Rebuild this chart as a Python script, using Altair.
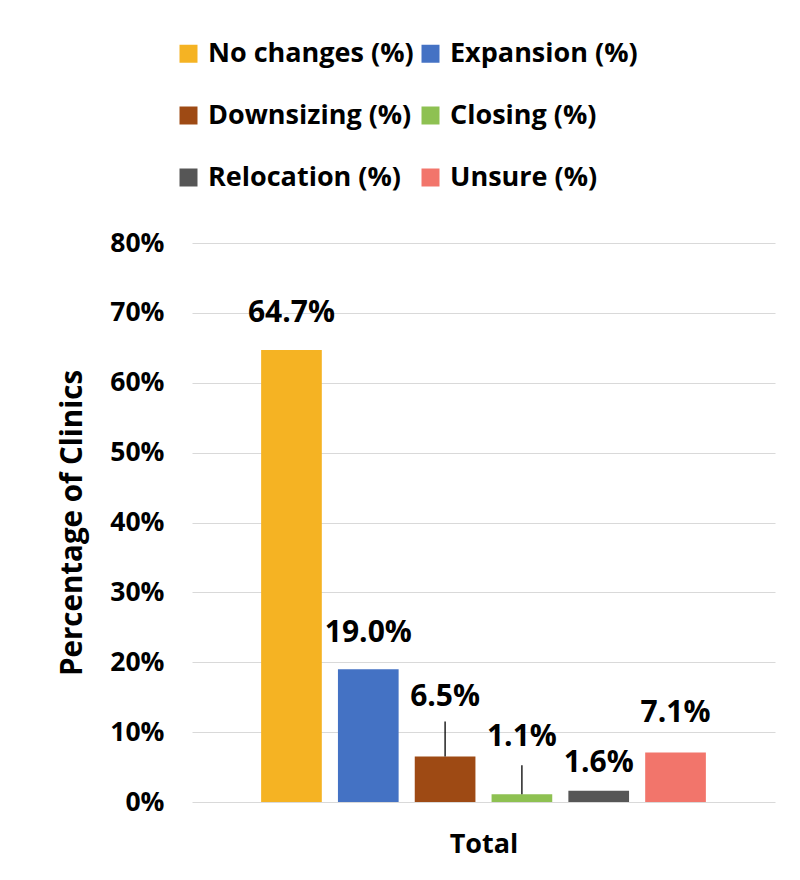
import altair as alt
import pandas as pd

# ---- data ----
categories = ["No changes (%)", "Expansion (%)", "Downsizing (%)", "Closing (%)", "Relocation (%)", "Unsure (%)"]
values = [64.7, 19.0, 6.5, 1.1, 1.6, 7.1]
labels = ["64.7%", "19.0%", "6.5%", "1.1%", "1.6%", "7.1%"]
y_ticks = [0, 10, 20, 30, 40, 50, 60, 70, 80]
group_label = "Total"
y_title = "Percentage of Clinics"

# ---- style ----
colors = ["#F5B323", "#4472C4", "#9E4A14", "#8EC152", "#565656", "#F2756B"]
FONT = "Open Sans"
label_dy = {"No changes (%)": -37, "Expansion (%)": -36, "Downsizing (%)": -60,
            "Closing (%)": -57, "Relocation (%)": -28, "Unsure (%)": -39}
leader_len = {"Downsizing (%)": 35, "Closing (%)": 29}

df = pd.DataFrame({"series": categories, "value": values, "label": labels})

x_enc = alt.X(
    "series:N", sort=categories,
    scale=alt.Scale(paddingInner=0.21, paddingOuter=0.9),
    axis=alt.Axis(title=group_label, labels=False, ticks=False, domain=False, grid=False,
                  titleFont=FONT, titleFontSize=27, titleFontWeight="bold", titleColor="#000000",
                  titleY=42, titleBaseline="middle"),
)
y_enc = alt.Y(
    "value:Q",
    scale=alt.Scale(domain=[0, 80]),
    axis=alt.Axis(values=y_ticks, labelExpr="datum.value + '%'", grid=True, gridColor="#d9d9d9",
                  gridWidth=1.2, domain=False, ticks=False, labelPadding=28,
                  labelFont=FONT, labelFontSize=26.5, labelFontWeight="bold", labelColor="#000000",
                  title=y_title, titleFont=FONT, titleFontSize=29.5, titleFontWeight="bold",
                  titleColor="#000000", titleX=-120, titleY=279.5, titleAngle=270,
                  titleAlign="center", titleBaseline="middle"),
)

base = alt.Chart(df)

bars = base.mark_bar().encode(
    x=x_enc, y=y_enc,
    color=alt.Color(
        "series:N", sort=categories,
        scale=alt.Scale(domain=categories, range=colors),
        legend=alt.Legend(orient="none", legendX=-17, legendY=-203, columns=2, title=None,
                          direction="horizontal",
                          symbolType="square", symbolSize=324, symbolStrokeWidth=0,
                          labelFont=FONT, labelFontSize=27, labelFontWeight="bold",
                          labelColor="#000000", rowPadding=34, columnPadding=3,
                          labelOffset=6, labelLimit=400),
    ),
)

layers = [bars]
for cat in categories:
    layers.append(
        base.transform_filter(alt.datum.series == cat)
        .mark_text(dy=label_dy[cat], baseline="middle", align="center", font=FONT,
                   fontSize=30, fontWeight="bold", color="#000000")
        .encode(x=x_enc, y=y_enc, text="label:N")
    )
for cat, ln in leader_len.items():
    layers.append(
        base.transform_filter(alt.datum.series == cat)
        .mark_rule(color="#000000", strokeWidth=1.3, y2Offset=-ln)
        .encode(x=x_enc, y=y_enc, y2="value:Q")
    )

chart = alt.layer(*layers).properties(
    width=583, height=559,
    autosize=alt.AutoSizeParams(type="none"),
    padding={"left": 184, "top": 235, "right": 17, "bottom": 70},
    background="white",
).configure_view(stroke=None)

chart.save("out.html", embed_options={"renderer": "svg", "actions": False})
